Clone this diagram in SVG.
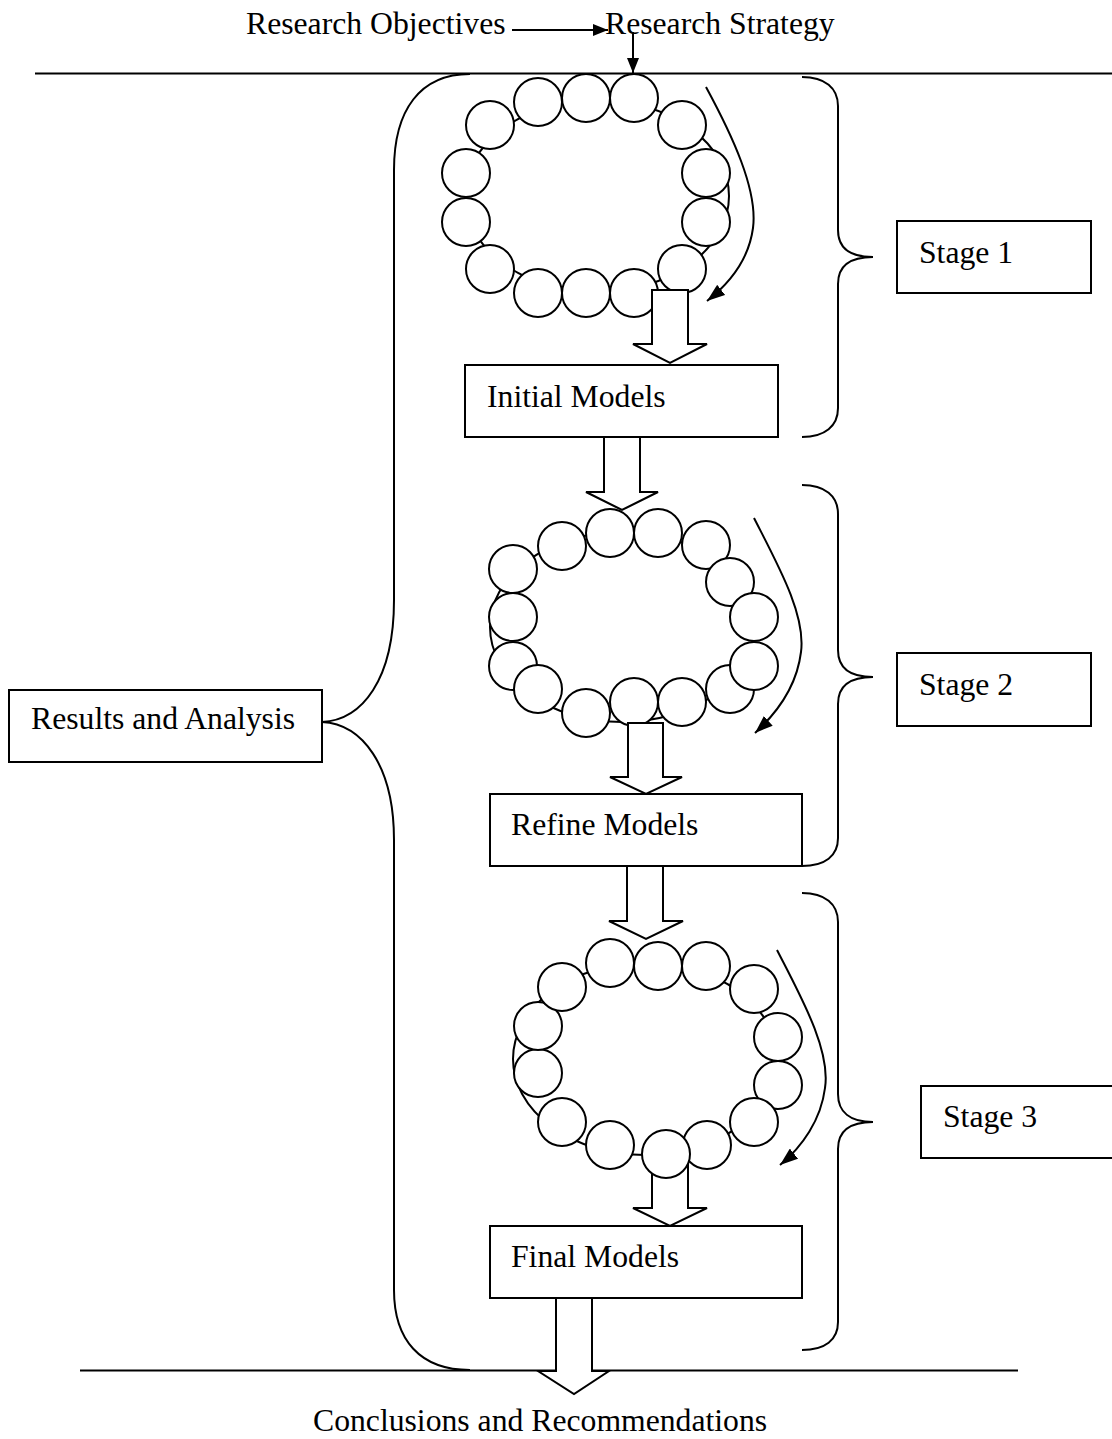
<svg xmlns="http://www.w3.org/2000/svg" width="1112" height="1439" viewBox="0 0 1112 1439">
  <defs>
    <style>
      .ln { fill: none; stroke: #000; stroke-width: 2; }
      .box { fill: #fff; stroke: #000; stroke-width: 2; }
      .bead { fill: #fff; stroke: #000; stroke-width: 2; }
      .loop { fill: none; stroke: #000; stroke-width: 2; }
      .blk { fill: #fff; stroke: #000; stroke-width: 2; stroke-linejoin: miter; }
      .t { font-family: "Liberation Serif", "Times New Roman", "DejaVu Serif", serif; font-size: 31.7px; fill: #000; }
    </style>
    <marker id="head" markerUnits="userSpaceOnUse" viewBox="0 0 18 13" refX="18" refY="6.5" markerWidth="18" markerHeight="13" orient="auto">
      <path d="M0,0 L18,6.5 L0,13 z" fill="#000"/>
    </marker>
    <marker id="head-s" markerUnits="userSpaceOnUse" viewBox="0 0 15 12" refX="15" refY="6" markerWidth="15" markerHeight="12" orient="auto">
      <path d="M0,0 L15,6 L0,12 z" fill="#000"/>
    </marker>
  </defs>

  <!-- frame lines -->
  <line class="ln" x1="35" y1="73.5" x2="1112" y2="73.5"/>
  <line class="ln" x1="80" y1="1370.5" x2="1018" y2="1370.5"/>

  <!-- top labels -->
  <text class="t" x="246" y="34">Research Objectives</text>
  <text class="t" x="605" y="34">Research Strategy</text>

  <!-- Stage 1 ring -->
  <g id="ring1">
    <ellipse class="loop" cx="597" cy="196" rx="132" ry="96"/>
    <circle class="bead" cx="538" cy="102" r="24"/>
    <circle class="bead" cx="586" cy="98" r="24"/>
    <circle class="bead" cx="634" cy="98" r="24"/>
    <circle class="bead" cx="682" cy="125" r="24"/>
    <circle class="bead" cx="706" cy="173" r="24"/>
    <circle class="bead" cx="706" cy="222" r="24"/>
    <circle class="bead" cx="682" cy="269" r="24"/>
    <circle class="bead" cx="634" cy="293" r="24"/>
    <circle class="bead" cx="586" cy="293" r="24"/>
    <circle class="bead" cx="538" cy="293" r="24"/>
    <circle class="bead" cx="490" cy="269" r="24"/>
    <circle class="bead" cx="466" cy="222" r="24"/>
    <circle class="bead" cx="466" cy="173" r="24"/>
    <circle class="bead" cx="490" cy="125" r="24"/>
  </g>

  <!-- Stage 2 ring -->
  <g id="ring2">
    <ellipse class="loop" cx="622" cy="627" rx="132" ry="95"/>
    <circle class="bead" cx="610" cy="533" r="24"/>
    <circle class="bead" cx="658" cy="533" r="24"/>
    <circle class="bead" cx="706" cy="545" r="24"/>
    <circle class="bead" cx="730" cy="582" r="24"/>
    <circle class="bead" cx="754" cy="617" r="24"/>
    <circle class="bead" cx="730" cy="689" r="24"/>
    <circle class="bead" cx="754" cy="666" r="24"/>
    <circle class="bead" cx="682" cy="702" r="24"/>
    <circle class="bead" cx="634" cy="702" r="24"/>
    <circle class="bead" cx="586" cy="713" r="24"/>
    <circle class="bead" cx="513" cy="666" r="24"/>
    <circle class="bead" cx="538" cy="689" r="24"/>
    <circle class="bead" cx="513" cy="617" r="24"/>
    <circle class="bead" cx="513" cy="569" r="24"/>
    <circle class="bead" cx="562" cy="546" r="24"/>
  </g>

  <!-- Stage 3 ring -->
  <g id="ring3">
    <ellipse class="loop" cx="645" cy="1059" rx="132" ry="96"/>
    <polygon class="blk" points="652,1165 652,1208 633,1208 670,1226 707,1208 688,1208 688,1165"/>
    <circle class="bead" cx="610" cy="963" r="24"/>
    <circle class="bead" cx="658" cy="966" r="24"/>
    <circle class="bead" cx="706" cy="966" r="24"/>
    <circle class="bead" cx="754" cy="989" r="24"/>
    <circle class="bead" cx="778" cy="1037" r="24"/>
    <circle class="bead" cx="778" cy="1085" r="24"/>
    <circle class="bead" cx="754" cy="1122" r="24"/>
    <circle class="bead" cx="707" cy="1145" r="24"/>
    <circle class="bead" cx="610" cy="1145" r="24"/>
    <circle class="bead" cx="666" cy="1154" r="24"/>
    <circle class="bead" cx="562" cy="1122" r="24"/>
    <circle class="bead" cx="538" cy="1073" r="24"/>
    <circle class="bead" cx="538" cy="1026" r="24"/>
    <circle class="bead" cx="562" cy="987" r="24"/>
  </g>

  <!-- model boxes -->
  <g id="initial-models">
    <rect class="box" x="465" y="365" width="313" height="72"/>
    <text class="t" x="487" y="407">Initial Models</text>
  </g>
  <g id="refine-models">
    <rect class="box" x="490" y="794" width="312" height="72"/>
    <text class="t" x="511" y="835">Refine Models</text>
  </g>
  <g id="final-models">
    <rect class="box" x="490" y="1226" width="312" height="72"/>
    <text class="t" x="511" y="1267">Final Models</text>
  </g>

  <!-- stage labels -->
  <g id="stage1">
    <rect class="box" x="897" y="221" width="194" height="72"/>
    <text class="t" x="919" y="263">Stage 1</text>
  </g>
  <g id="stage2">
    <rect class="box" x="897" y="653" width="194" height="73"/>
    <text class="t" x="919" y="695">Stage 2</text>
  </g>
  <g id="stage3">
    <rect class="box" x="921" y="1086" width="200" height="72"/>
    <text class="t" x="943" y="1127">Stage 3</text>
  </g>
  <g id="results">
    <rect class="box" x="9" y="690" width="313" height="72"/>
    <text class="t" x="31" y="729">Results and Analysis</text>
  </g>

  <text class="t" x="313" y="1431">Conclusions and Recommendations</text>

  <!-- connectors -->
  <g id="connectors">
    <!-- pointer arrows -->
    <line class="ln" x1="512" y1="30" x2="608" y2="30" marker-end="url(#head-s)"/>
    <line class="ln" x1="633" y1="32" x2="633" y2="73" marker-end="url(#head-s)"/>

    <!-- iteration arrows beside each ring -->
    <path class="ln" d="M706 87 C732 135 758 190 753 228 C749 258 730 283 707 301" marker-end="url(#head)"/>
    <path class="ln" d="M754 518 C778 565 806 615 801 652 C797 685 778 712 755 733" marker-end="url(#head)"/>
    <path class="ln" d="M777 950 C800 995 831 1050 825 1088 C821 1120 802 1147 780 1165" marker-end="url(#head)"/>

    <!-- block arrows between steps -->
    <polygon class="blk" points="652,290 652,344 633,344 670,363 707,344 688,344 688,290"/>
    <polygon class="blk" points="604,437 604,492 586,492 622,510 658,492 640,492 640,437"/>
    <polygon class="blk" points="628,723 628,777 610,777 646,794 682,777 663,777 663,723"/>
    <polygon class="blk" points="627,866 627,921 609,921 646,939 683,921 663,921 663,866"/>
    <polygon class="blk" points="556,1298 556,1371 538,1371 574,1394 609,1371 592,1371 592,1298"/>

    <!-- stage braces -->
    <path class="ln" d="M802 77 C825 77 838 88 838 106 L838 230 C838 248 850 257 873 257 C850 257 838 266 838 284 L838 408 C838 426 825 437 802 437"/>
    <path class="ln" d="M802 485 C825 485 838 496 838 514 L838 650 C838 668 850 677 873 677 C850 677 838 686 838 704 L838 838 C838 856 825 866 802 866"/>
    <path class="ln" d="M802 893 C825 893 838 904 838 922 L838 1094 C838 1112 850 1122 873 1122 C850 1122 838 1131 838 1149 L838 1322 C838 1340 825 1350 802 1350"/>

    <!-- overall brace to Results and Analysis -->
    <path class="ln" d="M470 74 C420 74 394 110 394 170 L394 600 C394 680 362 720 322 722 C362 724 394 765 394 840 L394 1290 C394 1340 420 1370 470 1370"/>
  </g>
</svg>
